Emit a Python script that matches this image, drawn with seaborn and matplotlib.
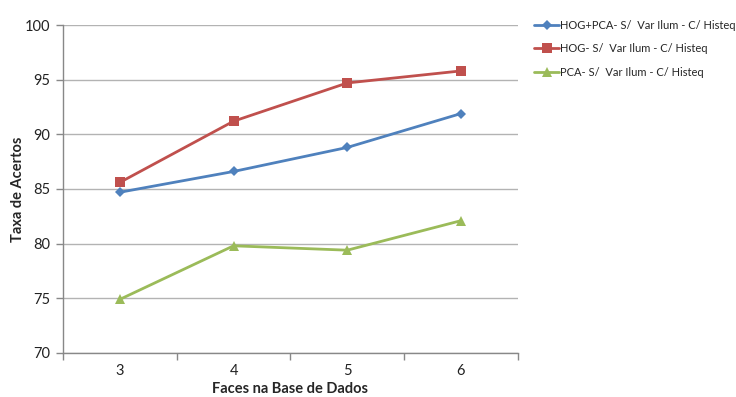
import matplotlib
matplotlib.use("Agg")
import matplotlib.pyplot as plt
import seaborn as sns
import pandas as pd
from matplotlib.ticker import FixedLocator

# Number of faces per subject in the database
faces = [3, 4, 5, 6]

# Recognition rate (%) for each method
hog_pca = [84.7, 86.6, 88.8, 91.9]
hog = [85.6, 91.2, 94.7, 95.8]
pca = [74.9, 79.8, 79.4, 82.1]

series_names = [
    "HOG+PCA- S/  Var Ilum - C/ Histeq",
    "HOG- S/  Var Ilum - C/ Histeq",
    "PCA- S/  Var Ilum - C/ Histeq",
]

df = pd.DataFrame({
    "faces": faces * 3,
    "taxa": hog_pca + hog + pca,
    "serie": [series_names[0]] * 4 + [series_names[1]] * 4 + [series_names[2]] * 4,
})

sns.set_theme(style="white")
plt.rcParams["font.family"] = ["Lato", "DejaVu Sans"]

colors = {series_names[0]: "#4F81BD", series_names[1]: "#C0504D", series_names[2]: "#9BBB59"}
markers = {series_names[0]: "D", series_names[1]: "s", series_names[2]: "^"}

fig = plt.figure(figsize=(7.36, 3.97), dpi=100)
ax = fig.add_axes([0.0856, 0.111, 0.618, 0.826])

sns.lineplot(
    data=df, x="faces", y="taxa", hue="serie", style="serie",
    palette=colors, markers=markers, dashes=False, linewidth=2.0,
    markersize=6.5, markeredgewidth=0, ax=ax, legend=True,
)
# smaller diamond markers
for line in ax.get_lines():
    if line.get_marker() == "D":
        line.set_markersize(5)

ax.set_xlim(2.5, 6.5)
ax.set_ylim(70, 100)
ax.set_yticks(range(70, 101, 5))
ax.set_xticks(faces)
ax.xaxis.set_minor_locator(FixedLocator([2.5, 3.5, 4.5, 5.5, 6.5]))
ax.yaxis.grid(True, color="#B3B3B3", linewidth=1)
ax.xaxis.grid(False)

for side in ["top", "right"]:
    ax.spines[side].set_visible(False)
for side in ["left", "bottom"]:
    ax.spines[side].set_color("#888888")
    ax.spines[side].set_linewidth(1)

ax.tick_params(axis="y", which="major", length=5, width=1, color="#888888",
               direction="out", left=True, labelsize=10.5, pad=4, labelcolor="#222222")
ax.tick_params(axis="x", which="major", length=0, labelsize=10.5, pad=8, labelcolor="#222222")
ax.tick_params(axis="x", which="minor", length=5, width=1, color="#888888",
               direction="out", bottom=True)

ax.set_xlabel("Faces na Base de Dados", fontsize=10.5, fontweight="bold", labelpad=3)
ax.set_ylabel("Taxa de Acertos", fontsize=10.5, fontweight="bold", labelpad=0)

leg = ax.legend(loc="upper left", bbox_to_anchor=(1.035, 1.015), frameon=False,
                fontsize=8.0, handlelength=2.3, labelspacing=1.1, handletextpad=0.1,
                borderaxespad=0, borderpad=0)
for h in leg.legend_handles:
    h.set_linewidth(2.0)

fig.savefig("out.png", dpi=100, facecolor="white")
